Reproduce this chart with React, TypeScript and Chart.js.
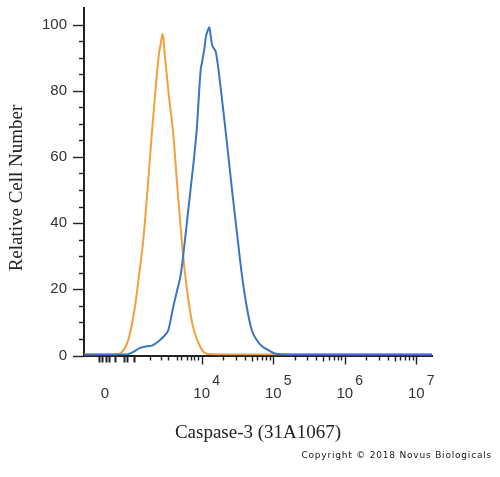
import React, { useEffect, useRef } from 'react';
import { Chart, registerables } from 'chart.js';

Chart.register(...registerables);

// X positions are in decades of fluorescence on the biexponential display (10^4 -> 4)
const blueX = [2.354, 2.9, 2.969, 3.039, 3.137, 3.235, 3.305, 3.36, 3.417, 3.48, 3.533, 3.603, 3.66, 3.71, 3.766, 3.843, 3.93, 3.986, 4.004, 4.039, 4.06, 4.081, 4.106, 4.123, 4.144, 4.2, 4.27, 4.34, 4.424, 4.512, 4.559, 4.629, 4.699, 4.769, 4.843, 4.927, 5.025, 5.235, 7.22];
const blueY = [0.3, 0.3, 0.4, 1, 2.3, 2.8, 3, 3.7, 4.7, 6, 7.7, 14.8, 20, 24.9, 34.9, 50, 68.2, 86.4, 88.5, 93, 96.5, 98, 99.2, 97, 94, 91.4, 80, 66.7, 50, 33.4, 24.9, 14.8, 7.7, 4.7, 2.8, 1.7, 0.6, 0.3, 0.3];

const orangeX = [2.354, 2.8, 2.857, 2.92, 2.973, 3.02, 3.067, 3.127, 3.183, 3.242, 3.301, 3.361, 3.403, 3.43, 3.455, 3.487, 3.543, 3.603, 3.655, 3.72, 3.766, 3.827, 3.88, 3.938, 4.0, 4.07, 4.3, 7.22];
const orangeY = [0.3, 0.3, 0.6, 2, 4.7, 9, 14.8, 24.9, 34.9, 50, 66.7, 82, 91.3, 94.5, 97.3, 90, 78, 66.7, 52, 34.9, 24.9, 14.8, 8.5, 4.7, 1.8, 0.5, 0.3, 0.3];

const X_MIN = 2.354;
const X_MAX = 7.22;
const Y_MIN = 0;
const Y_MAX = 105;

const yTickLabels = [0, 20, 40, 60, 80, 100];
const xDecadeTicks = [4, 5, 6, 7];
const xZeroTick = 2.648;
const xNearZeroTicks = [2.564, 2.606, 2.662, 2.703, 2.787, 2.913, 2.955, 3.053];
const xLowDecadeTicks = [3.277, 3.427, 3.529, 3.65, 3.71, 3.79, 3.846, 3.892, 3.944];
const xMinorMultipliers = [2, 3, 4, 5, 6, 7, 8, 9];
const xMinorDecades = [4, 5, 6];

const yLabelStep = 20;
const yMinorStep = 5;

const xTitle = 'Caspase-3 (31A1067)';
const yTitle = 'Relative Cell Number';
const copyright = 'Copyright \u00A9 2018 Novus Biologicals';

const axisDecor = {
  id: 'axisDecor',
  afterDraw(chart: any) {
    const { ctx, chartArea, scales } = chart;
    const xs = scales.x;
    const ys = scales.y;
    const line = (x1: number, y1: number, x2: number, y2: number) => {
      ctx.beginPath();
      ctx.moveTo(x1, y1);
      ctx.lineTo(x2, y2);
      ctx.stroke();
    };
    ctx.save();
    ctx.strokeStyle = '#222';
    // y ticks
    ctx.lineWidth = 1.4;
    for (let v = Y_MIN; v <= 100; v += yMinorStep) {
      const py = Math.round(ys.getPixelForValue(v)) + 0.5;
      const len = v % yLabelStep === 0 ? 11 : 5;
      line(chartArea.left - len, py, chartArea.left, py);
    }
    // x ticks
    const bottom = chartArea.bottom;
    xDecadeTicks.forEach((d) => {
      const px = Math.round(xs.getPixelForValue(d)) + 0.5;
      line(px, bottom, px, bottom + 9);
    });
    xMinorDecades.forEach((d) => {
      xMinorMultipliers.forEach((m) => {
        const px = Math.round(xs.getPixelForValue(d + Math.log10(m))) + 0.5;
        line(px, bottom, px, bottom + (m === 5 ? 6 : 5));
      });
    });
    xLowDecadeTicks.forEach((v) => {
      const px = Math.round(xs.getPixelForValue(v)) + 0.5;
      line(px, bottom, px, bottom + 5);
    });
    ctx.lineWidth = 2;
    xNearZeroTicks.forEach((v) => {
      const px = Math.round(xs.getPixelForValue(v)) + 0.5;
      line(px, bottom, px, bottom + 7);
    });
    // x labels
    ctx.fillStyle = '#333';
    ctx.textBaseline = 'middle';
    ctx.font = '15px "Liberation Sans", Arial, sans-serif';
    ctx.textAlign = 'center';
    ctx.fillText('0', xs.getPixelForValue(xZeroTick), 394);
    xDecadeTicks.forEach((d) => {
      const px = xs.getPixelForValue(d);
      ctx.font = '15px "Liberation Sans", Arial, sans-serif';
      ctx.textAlign = 'center';
      ctx.fillText('10', px, 394);
      ctx.font = '14px "Liberation Sans", Arial, sans-serif';
      ctx.textAlign = 'left';
      ctx.fillText(String(d), px + 10.5, 381);
    });
    // y title
    ctx.save();
    ctx.translate(17, 188);
    ctx.rotate(-Math.PI / 2);
    ctx.font = '19px "Liberation Serif", "Times New Roman", serif';
    ctx.fillStyle = '#222';
    ctx.textAlign = 'center';
    ctx.textBaseline = 'middle';
    ctx.fillText(yTitle, 0, 0);
    ctx.restore();
    // copyright
    ctx.font = '9px "DejaVu Sans", sans-serif';
    (ctx as any).letterSpacing = '0.8px';
    ctx.fillStyle = '#151515';
    ctx.textAlign = 'right';
    ctx.textBaseline = 'middle';
    ctx.fillText(copyright, 492, 456);
    ctx.restore();
  },
};

export default function App() {
  const ref = useRef<HTMLCanvasElement>(null);
  useEffect(() => {
    const canvas = ref.current;
    if (!canvas) return;
    const chart = new Chart(canvas, {
      type: 'line',
      data: {
        datasets: [
          {
            label: 'Caspase-3',
            data: blueX.map((x, i) => ({ x, y: blueY[i] })),
            borderColor: '#3B76C4',
            borderWidth: 2,
            pointRadius: 0,
            cubicInterpolationMode: 'monotone',
            fill: false,
          },
          {
            label: 'Control',
            data: orangeX.map((x, i) => ({ x, y: orangeY[i] })),
            borderColor: '#F2A03D',
            borderWidth: 2,
            pointRadius: 0,
            cubicInterpolationMode: 'monotone',
            fill: false,
          },
        ],
      },
      options: {
        animation: false,
        responsive: false,
        layout: { padding: { left: 0, right: 68, top: 8, bottom: 0 } },
        plugins: { legend: { display: false }, tooltip: { enabled: false }, title: { display: false } },
        scales: {
          x: {
            type: 'linear',
            position: 'bottom',
            min: X_MIN,
            max: X_MAX,
            grid: { display: false, drawTicks: false },
            border: { display: true, color: '#222', width: 2 },
            ticks: { display: false },
            title: {
              display: true,
              text: xTitle,
              color: '#222',
              font: { family: '"Liberation Serif", "Times New Roman", serif', size: 19 },
              padding: { top: 0, bottom: 33 },
            },
            afterFit: (s: any) => {
              s.height = 121.5;
              s.paddingLeft = 0;
              s.paddingRight = 0;
            },
          },
          y: {
            type: 'linear',
            min: Y_MIN,
            max: Y_MAX,
            grid: { display: false, drawTicks: false },
            border: { display: true, color: '#222', width: 2 },
            afterBuildTicks: (s: any) => {
              s.ticks = yTickLabels.map((value) => ({ value }));
            },
            ticks: {
              padding: 17,
              color: '#333',
              font: { family: '"Liberation Sans", Arial, sans-serif', size: 15 },
              callback: (v: any) => String(v),
            },
            afterFit: (s: any) => {
              s.width = 84;
              s.paddingTop = 0;
              s.paddingBottom = 0;
            },
          },
        },
      },
      plugins: [axisDecor],
    } as any);
    return () => chart.destroy();
  }, []);
  return (
    <div style={{ position: 'absolute', left: 0, top: 0, width: 500, height: 477, background: '#fff' }}>
      <canvas ref={ref} width={500} height={477} style={{ display: 'block', width: 500, height: 477 }} />
    </div>
  );
}
